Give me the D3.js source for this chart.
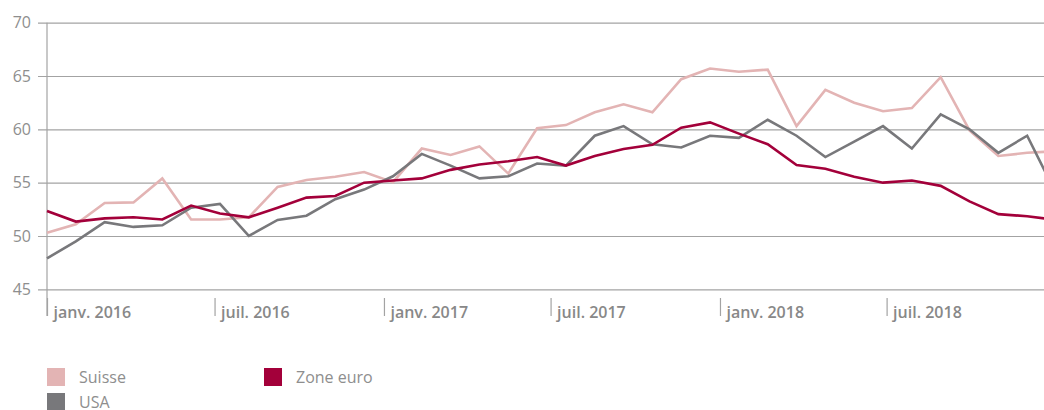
<!DOCTYPE html>
<html lang="fr">
<head>
    <meta charset="UTF-8">
    <title>Indices PMI</title>
    <script src="https://cdn.jsdelivr.net/npm/d3@7"></script>
    <style>
        body { margin: 0; background: #fff; }
        svg { display: block; font-family: "Open Sans", sans-serif; }
        .line { fill: none; stroke-width: 2.6; stroke-linejoin: miter; }
    </style>
</head>
<body>
    <script>
        // monthly values, janv. 2016 - déc. 2018
        var suisse = [50.3, 51.1, 53.1, 53.15, 55.4, 51.55, 51.55, 51.75, 54.6, 55.25, 55.55, 56.0,
                      55.05, 58.2, 57.6, 58.4, 55.85, 60.1, 60.4, 61.6, 62.35, 61.6, 64.7, 65.7,
                      65.4, 65.6, 60.3, 63.7, 62.5, 61.7, 62.0, 64.9, 59.9, 57.5, 57.8, 57.95];
        var zoneEuro = [52.35, 51.35, 51.65, 51.75, 51.55, 52.85, 52.1, 51.75, 52.65, 53.6, 53.75, 55.0,
                        55.2, 55.4, 56.2, 56.7, 57.0, 57.4, 56.6, 57.5, 58.15, 58.55, 60.15, 60.65,
                        59.6, 58.6, 56.65, 56.3, 55.55, 55.0, 55.2, 54.7, 53.25, 52.05, 51.85, 51.5];
        var usa = [47.9, 49.5, 51.3, 50.85, 51.0, 52.65, 53.0, 50.0, 51.5, 51.9, 53.45, 54.35,
                   55.6, 57.7, 56.6, 55.4, 55.6, 56.8, 56.6, 59.4, 60.3, 58.6, 58.3, 59.4,
                   59.2, 60.9, 59.4, 57.4, 58.85, 60.3, 58.2, 61.4, 60.0, 57.8, 59.4, 54.0];
        var yTicks = [45, 50, 55, 60, 65, 70];
        var moisFr = ["janv.", "févr.", "mars", "avr.", "mai", "juin", "juil.", "août", "sept.", "oct.", "nov.", "déc."];

        var series = [
            { name: "Suisse", values: suisse, color: "#e3b4b4" },
            { name: "USA", values: usa, color: "#78787b" },
            { name: "Zone euro", values: zoneEuro, color: "#a3003a" }
        ];

        var width = 1044, height = 410;
        var plotLeft = 47, plotRight = 1056, plotTop = 22.7, plotBottom = 289.3;

        var svg = d3.select("body").append("svg")
            .attr("width", width)
            .attr("height", height);

        var t = d3.scaleTime()
            .domain([new Date(2016, 0, 1), new Date(2019, 0, 1)])
            .range([plotLeft, plotRight]);

        var x = d3.scalePoint()
            .domain(d3.range(suisse.length))
            .range([plotLeft, plotRight]);

        var y = d3.scaleLinear()
            .domain([45, 70])
            .range([plotBottom, plotTop]);

        // gridlines + y labels
        var yAxis = svg.append("g")
            .attr("transform", "translate(38,0)")
            .call(d3.axisLeft(y).tickValues(yTicks).tickSize(-(plotRight - 38)).tickPadding(7));
        yAxis.select(".domain").remove();
        yAxis.selectAll(".tick line").attr("stroke", "#a3a3a3").attr("stroke-width", 1.2);
        yAxis.selectAll(".tick text")
            .attr("fill", "#8e8e8e")
            .style("font-size", "16px")
            .style("font-family", "Open Sans");

        // vertical axis line
        svg.append("line")
            .attr("x1", plotLeft).attr("x2", plotLeft)
            .attr("y1", plotTop).attr("y2", 316)
            .attr("stroke", "#a3a3a3")
            .attr("stroke-width", 1.2);

        // x axis
        var xAxis = svg.append("g")
            .attr("transform", "translate(0,298)")
            .call(d3.axisBottom(t)
                .ticks(d3.timeMonth.every(6))
                .tickSize(18)
                .tickFormat(d => moisFr[d.getMonth()] + " " + d.getFullYear()));
        xAxis.select(".domain").remove();
        xAxis.selectAll(".tick line").attr("stroke", "#a3a3a3").attr("stroke-width", 1.2);
        xAxis.selectAll(".tick text")
            .attr("x", 6)
            .attr("y", 20)
            .attr("dy", 0)
            .attr("text-anchor", "start")
            .attr("fill", "#888")
            .style("font-size", "16px")
            .style("font-weight", 600)
            .style("font-family", "Open Sans");
        // drop ticks that fall outside the visible window
        xAxis.selectAll(".tick").filter(d => t(d) > 1000).remove();

        var line = d3.line()
            .x((d, i) => x(i))
            .y(d => y(d));

        svg.selectAll(".line")
            .data(series)
            .enter().append("path")
            .attr("class", "line")
            .attr("stroke", d => d.color)
            .attr("d", d => line(d.values));

        // legend
        var legendPos = [
            { name: "Suisse", lx: 47, ly: 368 },
            { name: "Zone euro", lx: 264, ly: 368 },
            { name: "USA", lx: 47, ly: 393 }
        ];
        var legend = svg.selectAll(".legend")
            .data(legendPos)
            .enter().append("g")
            .attr("class", "legend")
            .attr("transform", d => "translate(" + d.lx + "," + d.ly + ")");
        legend.append("rect")
            .attr("width", 18)
            .attr("height", 18)
            .attr("fill", d => series.find(s => s.name === d.name).color);
        legend.append("text")
            .attr("x", 32)
            .attr("y", 15)
            .attr("fill", "#8e8e8e")
            .style("font-size", "16px")
            .text(d => d.name);
    </script>
</body>
</html>
